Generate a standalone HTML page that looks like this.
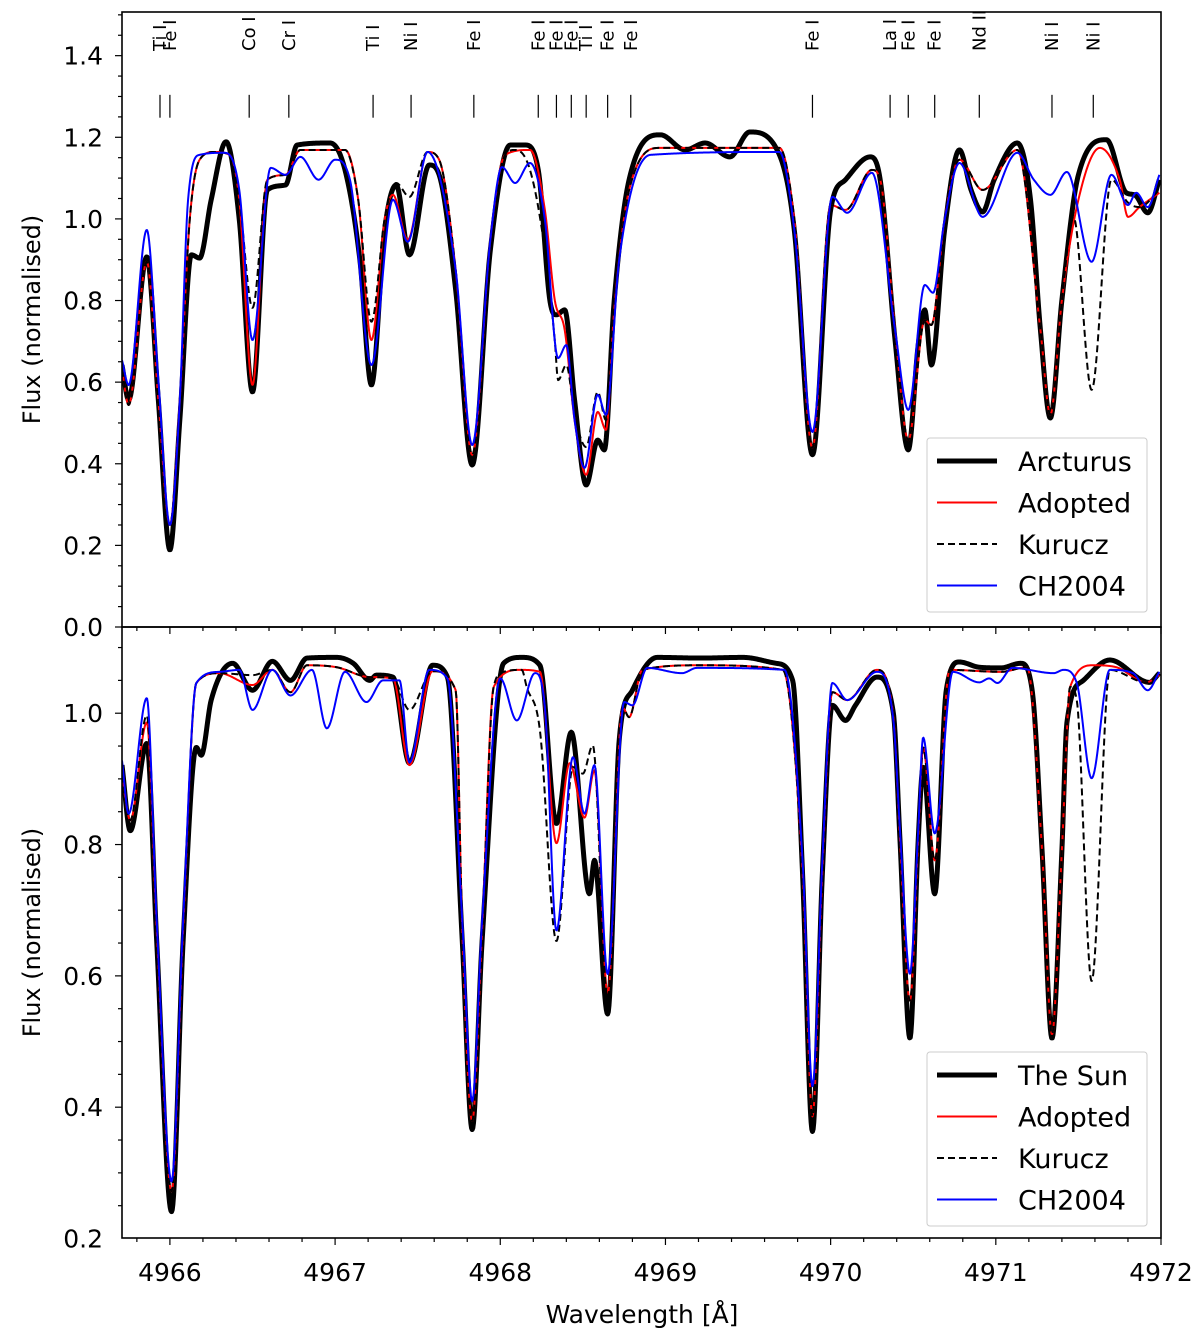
<!DOCTYPE html>
<html><head><meta charset="utf-8"><style>
html,body{margin:0;padding:0;background:#fff;}
svg{display:block;font-family:"DejaVu Sans","Liberation Sans",sans-serif;}
</style></head><body>
<svg id="chart" width="1200" height="1339" viewBox="0 0 1200 1339" xmlns="http://www.w3.org/2000/svg">
<g id="topPanel"></g>
<g id="botPanel"></g>
<text x="642" y="1323" font-size="25" text-anchor="middle">Wavelength [Å]</text>
</svg>
<script>
// ---------- DATA ----------
const lineLabels = ["Ti I","Fe I","Co I","Cr I","Ti I","Ni I","Fe I","Fe I","Fe I","Fe I","Ti I","Fe I","Fe I","Fe I","La I","Fe I","Fe I","Nd II","Ni I","Ni I"];
const lineWl = [4965.94,4966.00,4966.48,4966.72,4967.23,4967.46,4967.84,4968.23,4968.34,4968.43,4968.52,4968.65,4968.79,4969.89,4970.36,4970.47,4970.63,4970.90,4971.34,4971.59];
const xTicks = [4966,4967,4968,4969,4970,4971,4972];
const topYTicks = [0.0,0.2,0.4,0.6,0.8,1.0,1.2,1.4];
const botYTicks = [0.2,0.4,0.6,0.8,1.0];

const arcWl = [4965.71,4965.75,4965.86,4965.93,4966.00,4966.06,4966.13,4966.18,4966.25,4966.34,4966.42,4966.50,4966.59,4966.70,4966.77,4966.97,4967.06,4967.15,4967.22,4967.30,4967.37,4967.45,4967.57,4967.63,4967.73,4967.83,4967.94,4968.06,4968.15,4968.23,4968.30,4968.34,4968.39,4968.45,4968.52,4968.59,4968.63,4968.69,4968.78,4968.97,4969.12,4969.24,4969.39,4969.51,4969.69,4969.78,4969.89,4970.00,4970.09,4970.24,4970.30,4970.39,4970.47,4970.53,4970.57,4970.61,4970.69,4970.78,4970.85,4970.92,4970.99,4971.13,4971.21,4971.27,4971.33,4971.40,4971.50,4971.67,4971.79,4971.84,4971.92,4971.99];
const arcFlux = [0.642,0.556,0.907,0.556,0.189,0.507,0.912,0.904,1.047,1.189,0.998,0.576,1.071,1.083,1.181,1.186,1.120,0.900,0.593,0.973,1.083,0.912,1.132,1.108,0.826,0.397,0.924,1.181,1.181,1.120,0.801,0.765,0.777,0.556,0.348,0.458,0.434,0.801,1.096,1.206,1.169,1.186,1.152,1.213,1.157,0.973,0.422,1.022,1.096,1.152,1.096,0.703,0.434,0.691,0.777,0.642,0.973,1.169,1.071,1.017,1.096,1.186,1.047,0.728,0.512,0.801,1.108,1.194,1.064,1.059,1.015,1.096];

const adoTopWl = [4965.71,4965.75,4965.86,4965.93,4966.00,4966.06,4966.12,4966.18,4966.27,4966.36,4966.42,4966.50,4966.59,4966.70,4966.79,4967.06,4967.14,4967.22,4967.30,4967.35,4967.44,4967.56,4967.63,4967.73,4967.83,4967.94,4968.03,4968.18,4968.27,4968.33,4968.39,4968.45,4968.52,4968.59,4968.64,4968.69,4968.78,4968.97,4969.69,4969.78,4969.89,4970.00,4970.09,4970.25,4970.30,4970.39,4970.47,4970.57,4970.61,4970.69,4970.78,4970.92,4971.13,4971.27,4971.33,4971.40,4971.50,4971.63,4971.75,4971.80,4971.87,4971.99];
const adoTopFlux = [0.63,0.544,0.895,0.556,0.25,0.556,0.998,1.145,1.164,1.157,1.047,0.593,1.096,1.108,1.169,1.169,1.047,0.703,0.998,1.059,0.949,1.164,1.145,0.875,0.422,0.949,1.157,1.169,1.022,0.801,0.728,0.507,0.373,0.527,0.483,0.777,1.071,1.174,1.174,0.998,0.439,1.034,1.022,1.120,1.096,0.728,0.458,0.752,0.740,0.998,1.145,1.071,1.169,0.728,0.520,0.801,1.047,1.174,1.096,1.005,1.029,1.064];

const kurTopWl = [4965.71,4965.75,4965.86,4965.93,4966.00,4966.06,4966.12,4966.18,4966.27,4966.36,4966.42,4966.50,4966.59,4966.70,4966.79,4967.06,4967.14,4967.22,4967.30,4967.37,4967.45,4967.56,4967.63,4967.73,4967.83,4967.94,4968.03,4968.09,4968.18,4968.27,4968.33,4968.35,4968.40,4968.45,4968.52,4968.59,4968.64,4968.69,4968.78,4968.97,4969.69,4969.78,4969.89,4970.00,4970.09,4970.25,4970.30,4970.39,4970.47,4970.57,4970.61,4970.69,4970.78,4970.92,4971.13,4971.27,4971.33,4971.40,4971.47,4971.58,4971.70,4971.80,4971.87,4971.99];
const kurTopFlux = [0.63,0.544,0.895,0.556,0.25,0.556,0.998,1.145,1.164,1.157,1.047,0.782,1.096,1.108,1.169,1.169,1.047,0.748,1.0,1.088,1.054,1.164,1.145,0.875,0.422,0.949,1.157,1.169,1.120,0.924,0.703,0.605,0.642,0.52,0.441,0.576,0.507,0.777,1.071,1.174,1.174,0.998,0.439,1.034,1.022,1.120,1.096,0.728,0.458,0.752,0.740,0.998,1.145,1.071,1.169,0.728,0.520,0.801,1.005,0.581,1.096,1.040,1.029,1.071];

const chTopWl = [4965.71,4965.75,4965.86,4965.93,4966.00,4966.06,4966.11,4966.18,4966.33,4966.42,4966.50,4966.61,4966.70,4966.79,4966.90,4967.00,4967.09,4967.22,4967.35,4967.44,4967.56,4967.73,4967.83,4967.94,4968.01,4968.09,4968.18,4968.27,4968.35,4968.40,4968.45,4968.51,4968.59,4968.64,4968.72,4968.91,4969.69,4969.78,4969.89,4970.01,4970.10,4970.25,4970.39,4970.47,4970.57,4970.62,4970.69,4970.78,4970.92,4971.13,4971.23,4971.33,4971.43,4971.58,4971.70,4971.80,4971.85,4971.92,4971.99];
const chTopFlux = [0.654,0.593,0.973,0.605,0.25,0.556,1.047,1.157,1.162,1.071,0.703,1.125,1.108,1.152,1.096,1.145,1.096,0.642,1.047,0.944,1.164,0.875,0.446,0.949,1.127,1.088,1.137,0.998,0.659,0.691,0.507,0.390,0.569,0.520,0.900,1.157,1.164,0.973,0.478,1.054,1.015,1.113,0.728,0.532,0.838,0.819,0.998,1.137,1.005,1.162,1.096,1.059,1.115,0.895,1.108,1.034,1.064,1.029,1.108];

const sunWl = [4965.71,4965.76,4965.86,4965.92,4966.01,4966.08,4966.16,4966.19,4966.25,4966.38,4966.50,4966.62,4966.73,4966.83,4967.01,4967.11,4967.21,4967.25,4967.35,4967.45,4967.59,4967.68,4967.77,4967.83,4967.89,4968.02,4968.13,4968.24,4968.34,4968.43,4968.54,4968.57,4968.65,4968.72,4968.80,4968.95,4969.21,4969.47,4969.67,4969.77,4969.83,4969.89,4969.95,4970.01,4970.09,4970.15,4970.28,4970.38,4970.42,4970.48,4970.53,4970.56,4970.63,4970.70,4970.78,4970.90,4971.03,4971.15,4971.22,4971.28,4971.34,4971.40,4971.43,4971.53,4971.69,4971.93,4971.99];
const sunFlux = [0.921,0.821,0.954,0.653,0.241,0.653,0.948,0.936,1.020,1.076,1.035,1.079,1.050,1.084,1.085,1.076,1.050,1.058,1.055,0.924,1.073,1.055,0.653,0.366,0.653,1.076,1.085,1.073,0.832,0.971,0.725,0.776,0.542,0.959,1.035,1.085,1.084,1.085,1.076,1.050,0.756,0.363,0.756,1.012,0.989,1.012,1.055,1.000,0.806,0.505,0.806,0.918,0.725,1.035,1.078,1.070,1.069,1.076,1.035,0.791,0.505,0.791,0.985,1.050,1.081,1.047,1.061];

const adoBotWl = [4965.71,4965.76,4965.86,4965.92,4966.01,4966.08,4966.16,4966.30,4966.50,4966.62,4966.73,4966.83,4967.01,4967.21,4967.35,4967.45,4967.59,4967.73,4967.77,4967.83,4967.89,4967.96,4968.12,4968.24,4968.34,4968.42,4968.51,4968.57,4968.65,4968.74,4968.78,4968.86,4969.21,4969.71,4969.83,4969.89,4969.95,4970.01,4970.10,4970.28,4970.38,4970.42,4970.48,4970.53,4970.56,4970.63,4970.72,4971.03,4971.19,4971.28,4971.34,4971.40,4971.45,4971.59,4971.73,4971.91,4971.99];
const adoBotFlux = [0.905,0.837,0.986,0.669,0.272,0.669,1.046,1.061,1.043,1.066,1.032,1.073,1.070,1.055,1.053,0.921,1.064,1.035,0.669,0.379,0.669,1.040,1.066,1.063,0.802,0.924,0.841,0.913,0.573,1.009,0.994,1.066,1.073,1.066,0.760,0.386,0.760,1.032,1.020,1.066,0.994,0.806,0.562,0.806,0.948,0.776,1.066,1.063,1.070,0.791,0.511,0.791,1.040,1.073,1.070,1.047,1.058];

const kurBotWl = [4965.71,4965.76,4965.86,4965.92,4966.01,4966.08,4966.16,4966.30,4966.50,4966.62,4966.73,4966.83,4967.01,4967.21,4967.35,4967.45,4967.59,4967.73,4967.77,4967.83,4967.89,4967.96,4968.02,4968.13,4968.16,4968.24,4968.34,4968.44,4968.50,4968.56,4968.65,4968.74,4968.78,4968.86,4969.21,4969.71,4969.83,4969.89,4969.95,4970.01,4970.10,4970.28,4970.38,4970.42,4970.48,4970.53,4970.56,4970.63,4970.72,4971.03,4971.19,4971.28,4971.34,4971.40,4971.45,4971.49,4971.58,4971.69,4971.91,4971.99];
const kurBotFlux = [0.905,0.837,0.997,0.669,0.272,0.669,1.046,1.061,1.058,1.066,1.032,1.073,1.070,1.055,1.053,1.005,1.064,1.035,0.669,0.379,0.669,1.040,1.063,1.066,1.040,0.974,0.653,0.918,0.908,0.951,0.566,1.009,0.994,1.066,1.073,1.066,0.760,0.386,0.760,1.032,1.020,1.066,0.994,0.806,0.562,0.806,0.948,0.776,1.066,1.063,1.070,0.791,0.511,0.791,1.040,1.020,0.592,1.066,1.047,1.058];

const chBotWl = [4965.71,4965.75,4965.86,4965.92,4966.01,4966.08,4966.16,4966.30,4966.42,4966.50,4966.62,4966.73,4966.86,4966.95,4967.06,4967.19,4967.29,4967.39,4967.45,4967.57,4967.68,4967.77,4967.83,4967.89,4968.00,4968.10,4968.21,4968.27,4968.34,4968.44,4968.51,4968.57,4968.65,4968.75,4968.80,4968.89,4969.10,4969.19,4969.72,4969.83,4969.89,4969.95,4970.01,4970.10,4970.28,4970.38,4970.42,4970.48,4970.53,4970.56,4970.63,4970.74,4970.90,4970.96,4971.01,4971.10,4971.35,4971.41,4971.49,4971.58,4971.69,4971.83,4971.92,4971.99];
const chBotFlux = [0.928,0.847,1.023,0.684,0.287,0.684,1.046,1.063,1.066,1.005,1.066,1.027,1.066,0.977,1.063,1.017,1.050,1.050,0.925,1.066,1.053,0.684,0.409,0.684,1.053,0.989,1.061,1.009,0.669,0.933,0.847,0.921,0.603,1.017,1.012,1.069,1.061,1.069,1.066,0.776,0.432,0.776,1.046,1.020,1.063,0.989,0.821,0.603,0.821,0.963,0.817,1.063,1.047,1.053,1.046,1.069,1.061,1.066,1.046,0.901,1.066,1.061,1.035,1.063];

// ---------- RENDER ----------
const NS = "http://www.w3.org/2000/svg";
const X0 = 122, X1 = 1161, WMIN = 4965.71, WMAX = 4972;
function xs(w){ return X0 + (w - WMIN) / (WMAX - WMIN) * (X1 - X0); }
function mk(tag, attrs, parent){ const e = document.createElementNS(NS, tag); for (const k in attrs) e.setAttribute(k, attrs[k]); parent.appendChild(e); return e; }

function monotone(xa, ya){
  const n = xa.length, d = [], m = new Array(n);
  for (let i = 0; i < n-1; i++) d.push((ya[i+1]-ya[i])/(xa[i+1]-xa[i]));
  m[0] = d[0]; m[n-1] = d[n-2];
  for (let i = 1; i < n-1; i++) m[i] = (d[i-1]*d[i] <= 0) ? 0 : (d[i-1]+d[i])/2;
  for (let i = 0; i < n-1; i++){
    if (d[i] === 0){ m[i]=0; m[i+1]=0; continue; }
    const a = m[i]/d[i], b = m[i+1]/d[i], s = a*a+b*b;
    if (s > 9){ const t = 3/Math.sqrt(s); m[i]=t*a*d[i]; m[i+1]=t*b*d[i]; }
  }
  return function(x){
    let i = 0; while (i < n-2 && x > xa[i+1]) i++;
    const h = xa[i+1]-xa[i], t = (x-xa[i])/h, t2=t*t, t3=t2*t;
    return (2*t3-3*t2+1)*ya[i] + (t3-2*t2+t)*h*m[i] + (-2*t3+3*t2)*ya[i+1] + (t3-t2)*h*m[i+1];
  };
}

function panel(g, yTop, yBot, vTop, vBot, yTicks, series, legendNames, legendY, clipId){
  const ys = v => yBot - (v - vBot) / (vTop - vBot) * (yBot - yTop);
  const defs = mk("defs", {}, g);
  const cp = mk("clipPath", {id: clipId}, defs);
  mk("rect", {x: X0, y: yTop, width: X1-X0, height: yBot-yTop}, cp);
  const lines = mk("g", {"clip-path": "url(#"+clipId+")"}, g);
  series.forEach(s => {
    const f = monotone(s.wl, s.fl);
    let d = "";
    const a = s.wl[0], b = s.wl[s.wl.length-1];
    for (let w = a; w <= b + 1e-9; w += 0.004){
      d += (d ? "L" : "M") + xs(w).toFixed(2) + "," + ys(f(w)).toFixed(2);
    }
    const p = mk("path", {d: d, fill: "none", stroke: s.color, "stroke-width": s.width, "stroke-linejoin": "round"}, lines);
    if (s.dash) p.setAttribute("stroke-dasharray", s.dash);
    
    
  });
  const fr = mk("rect", {x: X0, y: yTop, width: X1-X0, height: yBot-yTop, fill: "none", stroke: "#000", "stroke-width": 1.6}, g);
  
  
  const vmin = yTicks[0];
  for (let v = vmin; v <= vTop + 1e-9; v += 0.05){
    const major = yTicks.some(t => Math.abs(t - v) < 1e-6);
    if (v < vBot - 1e-9) continue;
    mk("line", {x1: X0, x2: X0 - (major ? 7 : 4), y1: ys(v), y2: ys(v), stroke: "#000", "stroke-width": 1.2}, g);
  }
  yTicks.forEach(v => {
    const t = mk("text", {x: 103, y: ys(v) + 9, "font-size": 25, "text-anchor": "end"}, g);
    t.textContent = v.toFixed(1);
    
    
  });
  for (let w = 4965.8; w <= 4972.001; w += 0.2){
    const major = Math.abs(w - Math.round(w)) < 1e-6;
    mk("line", {x1: xs(w), x2: xs(w), y1: yBot, y2: yBot + (major ? 7 : 4), stroke: "#000", "stroke-width": 1.2}, g);
  }
  const yl = mk("text", {x: 0, y: 0, "font-size": 24, "text-anchor": "middle", transform: "translate(40," + ((yTop+yBot)/2) + ") rotate(-90)"}, g);
  yl.textContent = "Flux (normalised)";
  
  
  const lg = mk("g", {}, g);
  
  
  mk("rect", {x: 927, y: legendY, width: 220, height: 174, rx: 3, fill: "#fff", "fill-opacity": 0.8, stroke: "#ccc", "stroke-width": 1}, lg);
  series.forEach((s, i) => {
    const yy = legendY + 23 + i * 41.5;
    const l = mk("line", {x1: 937, x2: 997, y1: yy, y2: yy, stroke: s.color, "stroke-width": s.width}, lg);
    if (s.dash) l.setAttribute("stroke-dasharray", s.dash);
    const t = mk("text", {x: 1018, y: yy + 10, "font-size": 27}, lg);
    t.textContent = legendNames[i];
    
    
  });
  return ys;
}

const topG = document.getElementById("topPanel"), botG = document.getElementById("botPanel");
const ysTop = panel(topG, 12, 627, 1.507, 0.0, topYTicks, [
  {wl: arcWl, fl: arcFlux, color: "#000", width: 5, name: "arcturus-line"},
  {wl: adoTopWl, fl: adoTopFlux, color: "#ff0000", width: 2, name: "adopted-line"},
  {wl: kurTopWl, fl: kurTopFlux, color: "#000", width: 2, dash: "7,4", name: "kurucz-line"},
  {wl: chTopWl, fl: chTopFlux, color: "#0000ff", width: 2, name: "ch2004-line"}
], ["Arcturus","Adopted","Kurucz","CH2004"], 438, "clipTop");

panel(botG, 627, 1238, 1.1313, 0.2008, botYTicks, [
  {wl: sunWl, fl: sunFlux, color: "#000", width: 5, name: "sun-line"},
  {wl: adoBotWl, fl: adoBotFlux, color: "#ff0000", width: 2, name: "adopted-line"},
  {wl: kurBotWl, fl: kurBotFlux, color: "#000", width: 2, dash: "7,4", name: "kurucz-line"},
  {wl: chBotWl, fl: chBotFlux, color: "#0000ff", width: 2, name: "ch2004-line"}
], ["The Sun","Adopted","Kurucz","CH2004"], 1052, "clipBot");

xTicks.forEach(w => {
  const t = mk("text", {x: xs(w), y: 1281, "font-size": 25, "text-anchor": "middle"}, botG);
  t.textContent = String(w);
  
  
});

lineWl.forEach((w, i) => {
  const x = xs(w);
  const tk = mk("line", {x1: x, x2: x, y1: ysTop(1.304), y2: ysTop(1.248), stroke: "#000", "stroke-width": 1.2}, topG);
  
  
  const t = mk("text", {x: 0, y: 0, "font-size": 18, transform: "translate(" + (x + 6) + ",51) rotate(-90)"}, topG);
  t.textContent = lineLabels[i];
  
  
});
</script>
</body></html>
